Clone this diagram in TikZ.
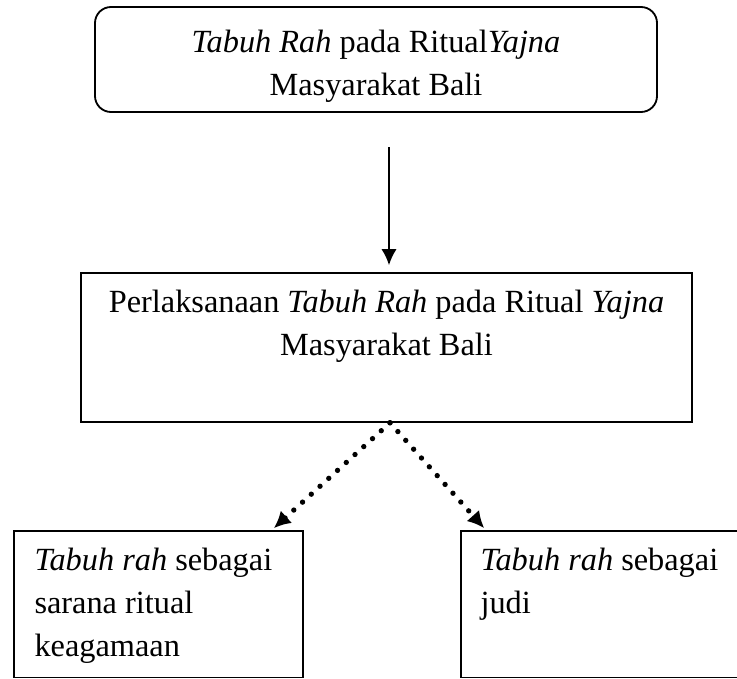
\documentclass[tikz,border=0pt]{standalone}
\usepackage{fontspec}
\setmainfont{Liberation Serif}
\usetikzlibrary{arrows.meta,positioning}

\begin{document}
\begin{tikzpicture}[auto, >={Latex[length=0.4cm,width=0.38cm]}, font=\fontsize{23pt}{30.6pt}\selectfont]
\tikzstyle{block} = [draw, rectangle, line width=1.1pt, inner sep=0pt]
\tikzstyle{rblock} = [block, rounded corners=0.4cm, line width=1.3pt]
\tikzstyle{txt} = [inner sep=0pt, align=center]
\tikzstyle{ltxt} = [inner sep=0pt, align=left]
\tikzstyle{dots} = [line width=3.8pt, line cap=round, dash pattern=on 0pt off 8.4pt, -{Latex[length=0.42cm,width=0.42cm]}]

\useasboundingbox (0,0) rectangle (18.425,-16.95);

    % the four boxes
    \node [rblock, minimum width=14.05cm, minimum height=2.625cm] (topik) at (9.4,-1.4875) {};
    \node [block, minimum width=15.275cm, minimum height=3.725cm] (perl) at (9.6625,-8.6875) {};
    \node [block, minimum width=7.225cm, minimum height=3.6625cm] (ritual) at (3.9625,-15.10625) {};
    \node [block, minimum width=6.9375cm, minimum height=3.6625cm] (judi) at (14.99375,-15.10625) {};

    % texts inside them
    \node [txt, below=0.6cm of topik.north] (topiktxt) {\textit{Tabuh Rah} pada Ritual\textit{Yajna}\\Masyarakat Bali};
    \node [txt, below=0.45cm of perl.north] (perltxt) {Perlaksanaan \textit{Tabuh Rah} pada Ritual \textit{Yajna}\\Masyarakat Bali};
    \node [ltxt, below right=0.45cm and 0.525cm of ritual.north west] (ritualtxt) {\textit{Tabuh rah} sebagai\\sarana ritual\\keagamaan};
    \node [ltxt, below right=0.45cm and 0.5cm of judi.north west] (juditxt) {\textit{Tabuh rah} sebagai\\judi};

    % connectors
    \coordinate (a1) at (9.725,-3.675);
    \coordinate (fork) at ([xshift=0.0875cm]perl.south);
    \draw [->, line width=1.4pt, shorten >=0.175cm] (a1) -- (a1 |- perl.north);
    \draw [dots] (fork) -- ([xshift=-0.75cm,yshift=0.05cm]ritual.north east);
    \draw [dots] (fork) -- ([xshift=0.6cm,yshift=0.05cm]judi.north west);

\end{tikzpicture}
\end{document}
